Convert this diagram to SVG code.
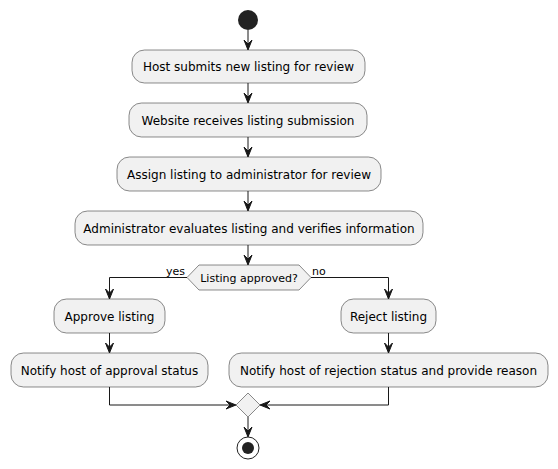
<svg xmlns="http://www.w3.org/2000/svg" width="558" height="469" viewBox="0 0 558 469">
<defs>
<style>
.box{fill:#F1F1F1;stroke:#181818;stroke-width:0.5}
.t{font-family:"DejaVu Sans",sans-serif;font-size:12px;fill:#000;text-anchor:middle}
.s{font-family:"DejaVu Sans",sans-serif;font-size:11px;fill:#000}
.ln{fill:none;stroke:#181818;stroke-width:1}
.ah{fill:#181818;stroke:#181818;stroke-width:1}
</style>
</defs>
<rect width="558" height="469" fill="#FFFFFF"/>
<g id="start"><circle cx="248" cy="20" r="10" fill="#222222"/></g>
<g id="n1"><rect class="box" x="132" y="50" width="233" height="33" rx="12.5"/><text class="t" x="248.5" y="71">Host submits new listing for review</text></g>
<g id="n2"><rect class="box" x="129" y="103" width="238" height="34" rx="12.5"/><text class="t" x="248" y="124.5">Website receives listing submission</text></g>
<g id="n3"><rect class="box" x="117" y="157" width="264" height="34" rx="12.5"/><text class="t" x="249" y="178.5">Assign listing to administrator for review</text></g>
<g id="n4"><rect class="box" x="75" y="211" width="348" height="34" rx="12.5"/><text class="t" x="249" y="232.5">Administrator evaluates listing and verifies information</text></g>
<g id="d1"><polygon class="box" points="187,277.5 199,265 299,265 311,277.5 299,290 199,290"/><text class="s" x="249" y="281.5" text-anchor="middle">Listing approved?</text></g>
<g id="n5"><rect class="box" x="54" y="299" width="111" height="34" rx="12.5"/><text class="t" x="109.5" y="320.5">Approve listing</text></g>
<g id="n6"><rect class="box" x="11" y="353" width="197" height="34" rx="12.5"/><text class="t" x="109.5" y="374.5">Notify host of approval status</text></g>
<g id="n7"><rect class="box" x="341" y="299" width="95" height="34" rx="12.5"/><text class="t" x="388.5" y="320.5">Reject listing</text></g>
<g id="n8"><rect class="box" x="229" y="353" width="319" height="34" rx="12.5"/><text class="t" x="388.5" y="374.5">Notify host of rejection status and provide reason</text></g>
<g id="merge"><polygon class="box" points="248,393 260,405 248,417 236,405"/></g>
<g id="end"><circle cx="248" cy="448" r="11" fill="none" stroke="#222222" stroke-width="1"/><circle cx="248" cy="448" r="6" fill="#222222"/></g>
<g id="connectors">
<line class="ln" x1="248" y1="30" x2="248" y2="49"/><polygon class="ah" points="244,40 248,50 252,40 248,44"/>
<line class="ln" x1="248" y1="83" x2="248" y2="102"/><polygon class="ah" points="244,93 248,103 252,93 248,97"/>
<line class="ln" x1="248" y1="137" x2="248" y2="156"/><polygon class="ah" points="244,147 248,157 252,147 248,151"/>
<line class="ln" x1="248" y1="191" x2="248" y2="210"/><polygon class="ah" points="244,201 248,211 252,201 248,205"/>
<line class="ln" x1="248" y1="245" x2="248" y2="264"/><polygon class="ah" points="244,255 248,265 252,255 248,259"/>
<polyline class="ln" points="187,277.5 109.5,277.5 109.5,298"/><polygon class="ah" points="105.5,289 109.5,299 113.5,289 109.5,293"/>
<text class="s" x="166" y="275">yes</text>
<polyline class="ln" points="311,277.5 388.5,277.5 388.5,298"/><polygon class="ah" points="384.5,289 388.5,299 392.5,289 388.5,293"/>
<text class="s" x="312" y="275">no</text>
<line class="ln" x1="109.5" y1="333" x2="109.5" y2="352"/><polygon class="ah" points="105.5,343 109.5,353 113.5,343 109.5,347"/>
<line class="ln" x1="388.5" y1="333" x2="388.5" y2="352"/><polygon class="ah" points="384.5,343 388.5,353 392.5,343 388.5,347"/>
<polyline class="ln" points="109.5,387 109.5,405 235,405"/><polygon class="ah" points="226,401 236,405 226,409 230,405"/>
<polyline class="ln" points="388.5,387 388.5,405 261,405"/><polygon class="ah" points="270,401 260,405 270,409 266,405"/>
<line class="ln" x1="248" y1="417" x2="248" y2="436"/><polygon class="ah" points="244,427 248,437 252,427 248,431"/>
</g>
</svg>
